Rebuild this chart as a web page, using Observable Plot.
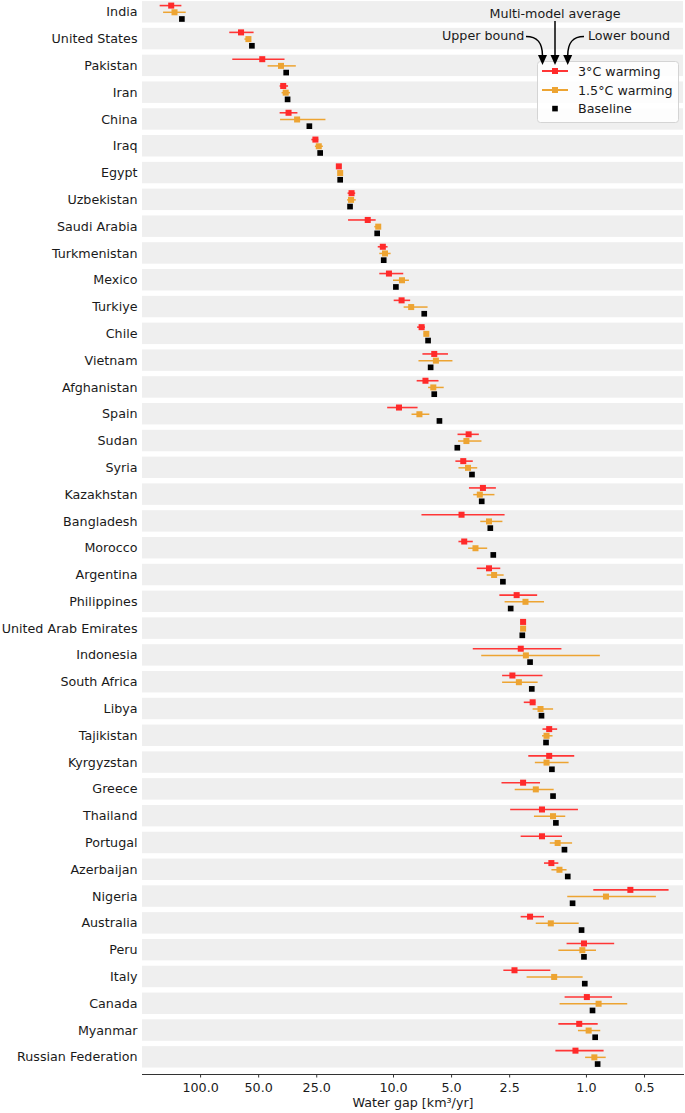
<!DOCTYPE html>
<html><head><meta charset="utf-8">
<script src="https://cdn.jsdelivr.net/npm/d3@7"></script>
<script src="https://cdn.jsdelivr.net/npm/@observablehq/plot@0.6"></script>
<style>
body{margin:0;background:#fff;font-family:"DejaVu Sans",sans-serif;}
#wrap{position:relative;width:685px;height:1113px;}
#overlay{position:absolute;left:0;top:0;pointer-events:none;}
</style></head><body><div id="wrap"></div>
<script>
const countries = ["India","United States","Pakistan","Iran","China","Iraq","Egypt","Uzbekistan","Saudi Arabia","Turkmenistan","Mexico","Turkiye","Chile","Vietnam","Afghanistan","Spain","Sudan","Syria","Kazakhstan","Bangladesh","Morocco","Argentina","Philippines","United Arab Emirates","Indonesia","South Africa","Libya","Tajikistan","Kyrgyzstan","Greece","Thailand","Portugal","Azerbaijan","Nigeria","Australia","Peru","Italy","Canada","Myanmar","Russian Federation"];

// 3°C warming: multi-model average, upper bound, lower bound
const w3Mean  = [142,61.7,47.9,37.3,35.0,25.4,19.2,16.5,13.6,11.36,10.56,9.08,7.15,6.15,6.83,9.37,4.08,4.35,3.44,4.44,4.30,3.20,2.30,2.13,2.19,2.42,1.90,1.56,1.56,2.13,1.70,1.70,1.52,0.592,1.96,1.03,2.36,0.995,1.09,1.14];
const w3Upper = [162,70.6,68.1,38.7,38.7,26.5,19.4,17.2,17.1,12.0,11.78,9.92,7.50,7.04,7.54,10.72,4.63,4.75,4.04,7.12,4.58,3.68,2.81,2.15,3.86,2.72,2.10,1.68,1.99,2.74,2.47,2.18,1.65,0.916,2.18,1.26,2.68,1.29,1.39,1.44];
const w3Lower = [125,52.8,36.5,35.0,31.3,24.4,19.0,15.7,12.3,10.67,8.85,8.15,6.83,5.19,5.81,7.46,3.59,3.86,2.93,2.64,3.86,2.78,1.79,2.11,1.34,1.68,1.83,1.41,1.15,1.73,1.10,1.33,1.39,0.373,1.65,0.714,1.53,0.732,0.869,0.81];
// 1.5°C warming
const w15Mean  = [136.5,56.5,38.3,36.2,31.6,24.4,18.9,16.6,12.0,11.07,9.04,8.10,6.76,6.03,6.22,7.34,4.19,4.11,3.57,3.20,3.76,3.01,2.07,2.13,2.06,2.24,1.73,1.61,1.61,1.83,1.49,1.41,1.38,0.792,1.53,1.05,1.47,0.865,0.974,0.91];
const w15Upper = [155.5,58.9,44.7,37.8,38.5,25.4,19.0,17.3,12.5,11.78,10.0,8.81,6.93,7.38,6.58,8.02,4.60,4.58,3.84,3.53,4.08,3.27,2.64,2.15,3.49,2.72,1.89,1.69,1.84,2.34,1.86,1.54,1.51,1.25,1.82,1.39,2.03,1.37,1.10,1.01];
const w15Lower = [118.7,54.5,31.9,34.2,22.4,23.1,18.8,15.6,11.6,10.29,8.27,6.62,6.58,4.92,5.46,6.48,3.48,3.66,2.98,2.71,3.25,2.67,1.65,2.11,0.847,1.78,1.48,1.49,1.23,1.47,1.28,1.18,1.26,0.434,1.09,0.887,1.04,0.611,0.843,0.79];
// Baseline
const baseline = [125,54.2,36.0,35.4,27.3,24.0,18.9,16.8,12.15,11.24,9.72,6.93,6.62,6.42,6.15,5.78,4.67,3.92,3.49,3.15,3.04,2.71,2.47,2.15,1.96,1.92,1.71,1.62,1.51,1.49,1.44,1.30,1.25,1.18,1.06,1.03,1.02,0.930,0.901,0.875];

const xTicks = [100,50,25,10,5,2.5,1,0.5];
const xLabel = "Water gap [km³/yr]";

const RED = "#ff2a2a", RED_LINE = "#ff3636", ORANGE = "#eda432";
const FS = 12.7;

const rows = countries.map((c, i) => ({
  i, country: c,
  r: w3Mean[i], rHi: w3Upper[i], rLo: w3Lower[i],
  o: w15Mean[i], oHi: w15Upper[i], oLo: w15Lower[i],
  b: baseline[i]
}));

const chart = Plot.plot({
  width: 685, height: 1113,
  marginLeft: 142, marginRight: 2, marginTop: 0, marginBottom: 39,
  style: {fontFamily: "DejaVu Sans", fontSize: FS + "px", color: "#1a1a1a", background: "#fff"},
  x: {type: "log", domain: [200, 0.314], axis: null},
  y: {type: "linear", domain: [39.64, -0.44], axis: null},
  marks: [
    Plot.rect(rows, {y1: d => d.i - 0.4, y2: d => d.i + 0.4, fill: "#efefef"}),
    Plot.ruleY(rows, {y: d => d.i - 0.25, x1: "rHi", x2: "rLo", stroke: RED_LINE, strokeWidth: 1.6}),
    Plot.ruleY(rows, {y: d => d.i, x1: "oHi", x2: "oLo", stroke: ORANGE, strokeWidth: 1.5}),
    Plot.dot(rows, {x: "r", y: d => d.i - 0.25, symbol: "square", r: 3.4, fill: RED}),
    Plot.dot(rows, {x: "o", y: d => d.i, symbol: "square", r: 3.4, fill: ORANGE}),
    Plot.dot(rows, {x: "b", y: d => d.i + 0.25, symbol: "square", r: 3.2, fill: "#000"}),
    Plot.axisY(d3.range(countries.length), {tickFormat: i => countries[i], tickSize: 0, tickPadding: 5, fontSize: FS, label: null}),
    Plot.axisX(xTicks, {tickFormat: () => "", tickSize: 3.5, stroke: "#333", label: null}),
    Plot.text(xTicks, {x: d => d, text: d => d.toFixed(1), frameAnchor: "bottom", lineAnchor: "top", dy: 8, fontSize: FS, fill: "#1a1a1a"}),
    Plot.text([xLabel], {text: d => d, frameAnchor: "bottom", lineAnchor: "top", dy: 23.5, fontSize: FS, fill: "#1a1a1a"}),
    Plot.frame({anchor: "bottom", stroke: "#333"})
  ]
});

const wrap = document.getElementById("wrap");
wrap.appendChild(chart);

// legend + annotation overlay
const ns = "http://www.w3.org/2000/svg";
const ov = document.createElementNS(ns, "svg");
ov.setAttribute("id", "overlay");
ov.setAttribute("width", 685);
ov.setAttribute("height", 130);
ov.innerHTML = `
<g font-family="DejaVu Sans" font-size="${FS}" fill="#1a1a1a">
  <rect x="537.5" y="61.5" width="141" height="61" rx="3" fill="#fff" fill-opacity="0.85" stroke="#d4d4d4"/>
  <line x1="542" x2="568" y1="71" y2="71" stroke="${RED_LINE}" stroke-width="2"/>
  <rect x="552" y="68" width="6" height="6" fill="${RED}"/>
  <text x="578" y="75.5">3°C warming</text>
  <line x1="542" x2="568" y1="90" y2="90" stroke="${ORANGE}" stroke-width="2"/>
  <rect x="552" y="87" width="6" height="6" fill="${ORANGE}"/>
  <text x="578" y="94.5">1.5°C warming</text>
  <rect x="552.2" y="105.8" width="5.6" height="5.6" fill="#000"/>
  <text x="578" y="113">Baseline</text>
  <text x="555" y="17.5" text-anchor="middle">Multi-model average</text>
  <text x="442" y="40">Upper bound</text>
  <text x="588" y="40">Lower bound</text>
  <path d="M526,36.5 C537,36.5 542.5,42 542.5,56" stroke="#000" stroke-width="1.5" fill="none"/>
  <polygon points="538,55 547,55 542.5,65" fill="#000"/>
  <line x1="555" x2="555" y1="21" y2="56" stroke="#000" stroke-width="1.5"/>
  <polygon points="550.5,55 559.5,55 555,65" fill="#000"/>
  <path d="M584,36.5 C573,36.5 567.7,42 567.7,56" stroke="#000" stroke-width="1.5" fill="none"/>
  <polygon points="563.2,55 572.2,55 567.7,65" fill="#000"/>
</g>`;
wrap.appendChild(ov);
</script>
</body></html>
